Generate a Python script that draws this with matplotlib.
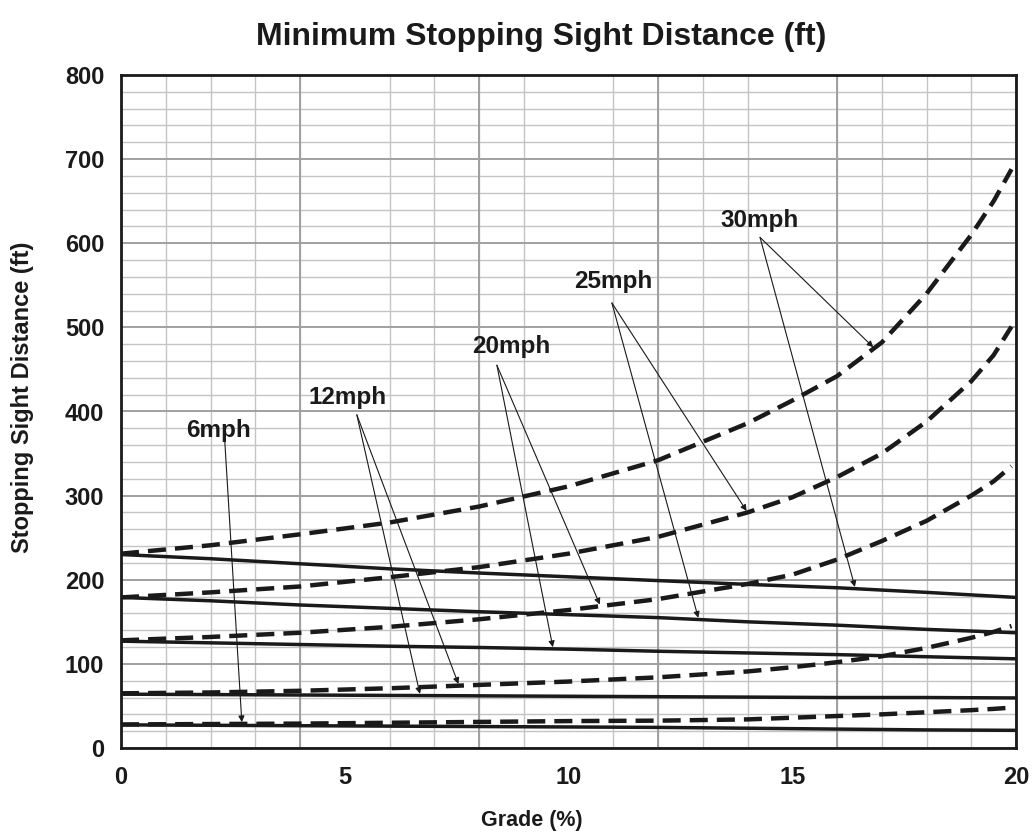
import matplotlib
matplotlib.use("Agg")
import matplotlib.pyplot as plt
import numpy as np
from matplotlib.ticker import MultipleLocator

plt.rcParams['font.family'] = ['Liberation Sans', 'DejaVu Sans']
plt.rcParams['font.weight'] = 'bold'
plt.rcParams['lines.scale_dashes'] = False

# ---- data ----
grade_down = [0, 2, 4, 6, 8, 10, 12, 14, 15, 16, 17, 18, 19, 19.5, 19.9]
ssd_down_30 = [231, 241, 254, 268, 287, 311, 342, 386, 413, 442, 482, 540, 610, 650, 688]
ssd_down_25 = [179, 185, 192, 203, 215, 231, 251, 280, 298, 322, 350, 388, 436, 467, 501]
ssd_down_20 = [128, 132, 137, 144, 153, 164, 177, 195, 206, 224, 246, 270, 300, 317, 335]
ssd_down_12 = [65, 66, 68, 71, 75, 79, 84, 91, 96, 102, 109, 119, 131, 138, 145]
ssd_down_6 = [28, 28.5, 29, 30, 31, 32, 32.5, 34, 36, 38, 40, 42.5, 45, 46.5, 48]

grade_up = [0, 2, 4, 6, 8, 10, 12, 14, 16, 18, 20]
ssd_up_30 = [230, 225, 219, 213, 208, 203.5, 199, 194.5, 190.5, 185, 179]
ssd_up_25 = [179, 175, 170, 166, 162, 158.5, 155, 150, 146, 141, 137]
ssd_up_20 = [127, 125, 123, 121, 119.5, 117.5, 115, 113, 111, 108.5, 106]
ssd_up_12 = [64, 63.5, 63, 62.5, 62, 61.5, 61, 60.5, 60, 60, 59.5]
ssd_up_6 = [27.5, 27, 26.5, 26, 25.5, 25, 24.5, 23.5, 22.5, 21.5, 21]

speed_labels = ["6mph", "12mph", "20mph", "25mph", "30mph"]
x_ticks = [0, 5, 10, 15, 20]
y_ticks = [0, 100, 200, 300, 400, 500, 600, 700, 800]

W, H = 1032, 838
fig = plt.figure(figsize=(W / 100, H / 100), dpi=100)
ax = fig.add_axes([121 / W, 1 - 748 / H, (1016 - 121) / W, (748 - 75) / H])

ax.set_xlim(0, 20)
ax.set_ylim(0, 800)

# grid
ax.xaxis.set_minor_locator(MultipleLocator(1))
ax.yaxis.set_minor_locator(MultipleLocator(20))
ax.set_axisbelow(True)
ax.grid(which='minor', color='#c4c4c4', lw=1.0)
for xv in range(0, 21, 4):
    ax.axvline(xv, color='#a0a0a0', lw=1.4, zorder=0.6)
for yv in y_ticks:
    ax.axhline(yv, color='#a0a0a0', lw=1.4, zorder=0.6)

ax.set_xticks(x_ticks)
ax.set_yticks(y_ticks)
ax.tick_params(which='both', length=0)
ax.tick_params(axis='x', pad=13, labelsize=17)
ax.tick_params(axis='y', pad=12, labelsize=17)
for lab in ax.get_xticklabels() + ax.get_yticklabels():
    lab.set_fontweight('bold')
    lab.set_color('#1a1a1a')

for sp in ax.spines.values():
    sp.set_color('#1a1a1a')
    sp.set_linewidth(2)
    sp.set_zorder(5)

down_series = [ssd_down_6, ssd_down_12, ssd_down_20, ssd_down_25, ssd_down_30]
up_series = [ssd_up_6, ssd_up_12, ssd_up_20, ssd_up_25, ssd_up_30]

for s in up_series:
    ax.plot(grade_up, s, color='#1a1a1a', lw=2.5, solid_capstyle='butt', zorder=3)
for s in down_series:
    ax.plot(grade_down, s, color='#1a1a1a', lw=3.2, dashes=(13, 6.5),
            dash_capstyle='butt', zorder=3)

# annotations: label centre, arrow origin, arrow target grades (dashed, solid)
ann = {
    "30mph": ((14.26, 627), (14.28, 607), [(16.81, ssd_down_30, grade_down), (16.4, ssd_up_30, grade_up)]),
    "25mph": ((10.99, 554), (10.97, 529), [(13.98, ssd_down_25, grade_down), (12.9, ssd_up_25, grade_up)]),
    "20mph": ((8.72, 477), (8.40, 455), [(10.70, ssd_down_20, grade_down), (9.65, ssd_up_20, grade_up)]),
    "12mph": ((5.07, 417), (5.27, 396), [(7.54, ssd_down_12, grade_down), (6.68, ssd_up_12, grade_up)]),
    "6mph": ((2.17, 378), (2.32, 364), [(2.70, ssd_down_6, grade_down)]),
}
for lab in speed_labels:
    (tx, ty), (ox, oy), targets = ann[lab]
    ax.text(tx, ty, lab, ha='center', va='center', fontsize=17.5, fontweight='bold',
            color='#1a1a1a', zorder=6)
    for g, s, gr in targets:
        yv = float(np.interp(g, gr, s)) + 2
        ax.annotate('', xy=(g, yv), xytext=(ox, oy),
                    arrowprops=dict(arrowstyle='-|>', color='#1a1a1a', lw=0.8,
                                    mutation_scale=9, shrinkA=0, shrinkB=0),
                    zorder=6)

fig.text(541 / W, 1 - 37 / H, "Minimum Stopping Sight Distance (ft)", ha='center', va='center',
         fontsize=23, fontweight='bold', color='#1a1a1a')
fig.text(532 / W, 1 - 820 / H, "Grade (%)", ha='center', va='center',
         fontsize=15.5, fontweight='bold', color='#1a1a1a')
fig.text(23 / W, 1 - 397 / H, "Stopping Sight Distance (ft)", ha='center', va='center',
         rotation=90, fontsize=17, fontweight='bold', color='#1a1a1a')

fig.savefig("out.png", dpi=100)
